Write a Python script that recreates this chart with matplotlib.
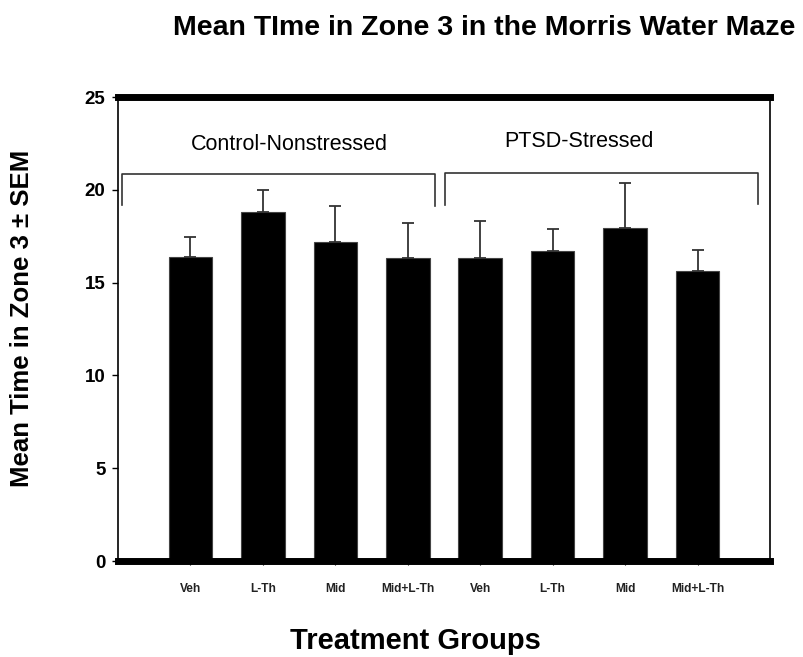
import matplotlib
matplotlib.use("Agg")
import matplotlib.pyplot as plt

categories = ["Veh", "L-Th", "Mid", "Mid+L-Th", "Veh", "L-Th", "Mid", "Mid+L-Th"]
means = [16.4, 18.8, 17.2, 16.35, 16.3, 16.7, 17.95, 15.65]
sems = [1.05, 1.2, 1.95, 1.85, 2.0, 1.2, 2.4, 1.1]
group_labels = ["Control-Nonstressed", "PTSD-Stressed"]
yticks = [0, 5, 10, 15, 20, 25]

plt.rcParams['font.family'] = ['Liberation Sans', 'DejaVu Sans']

fig = plt.figure(figsize=(8.04, 6.57), dpi=100)
ax = fig.add_axes([118/804, 1-561/657, (770-118)/804, (561-97)/657])

x = list(range(len(categories)))
ax.bar(x, means, width=0.6, color="black", edgecolor="#444444", linewidth=0.8, zorder=2)
ax.errorbar(x, means, yerr=[[0]*len(sems), sems], fmt="none", ecolor="#333333",
            elinewidth=1.3, capsize=4.5, capthick=1.3, zorder=3)

ax.set_xlim(-1, 8)
ax.set_ylim(0, 25)
ax.set_yticks(yticks)
ax.set_yticklabels([str(t) for t in yticks], fontsize=13.5, fontweight="bold")
ax.set_xticks(x)
ax.set_xticklabels(categories, fontsize=8.6, fontweight="bold", color="#222222")
ax.tick_params(axis="y", length=4, width=1, pad=5)
ax.tick_params(axis="x", length=3, width=0.8, pad=13)

ax.spines["top"].set_linewidth(5)
ax.spines["bottom"].set_linewidth(5)
ax.spines["left"].set_linewidth(1.2)
ax.spines["right"].set_linewidth(1.2)

# group brackets
br_kw = dict(color="#333333", linewidth=1.2, clip_on=False)
ax.plot([-0.945, -0.945, 3.38, 3.38], [19.2, 20.85, 20.85, 19.15], **br_kw)
ax.plot([3.515, 3.515, 7.83, 7.83], [19.2, 20.9, 20.9, 19.25], **br_kw)
ax.text(1.36, 22.45, group_labels[0], ha="center", va="center", fontsize=15.5)
ax.text(5.36, 22.6, group_labels[1], ha="center", va="center", fontsize=15.5)

fig.text(22/804, 1-318/657, "Mean Time in Zone 3 \u00b1 SEM", rotation=90, ha="center",
         va="center", fontsize=18.5, fontweight="bold")
fig.text(415/804, 1-641/657, "Treatment Groups", ha="center", va="center",
         fontsize=21, fontweight="bold")
fig.text(484/804, 1-28/657, "Mean TIme in Zone 3 in the Morris Water Maze", ha="center",
         va="center", fontsize=20.5, fontweight="bold")

fig.savefig("out.png", dpi=100)
